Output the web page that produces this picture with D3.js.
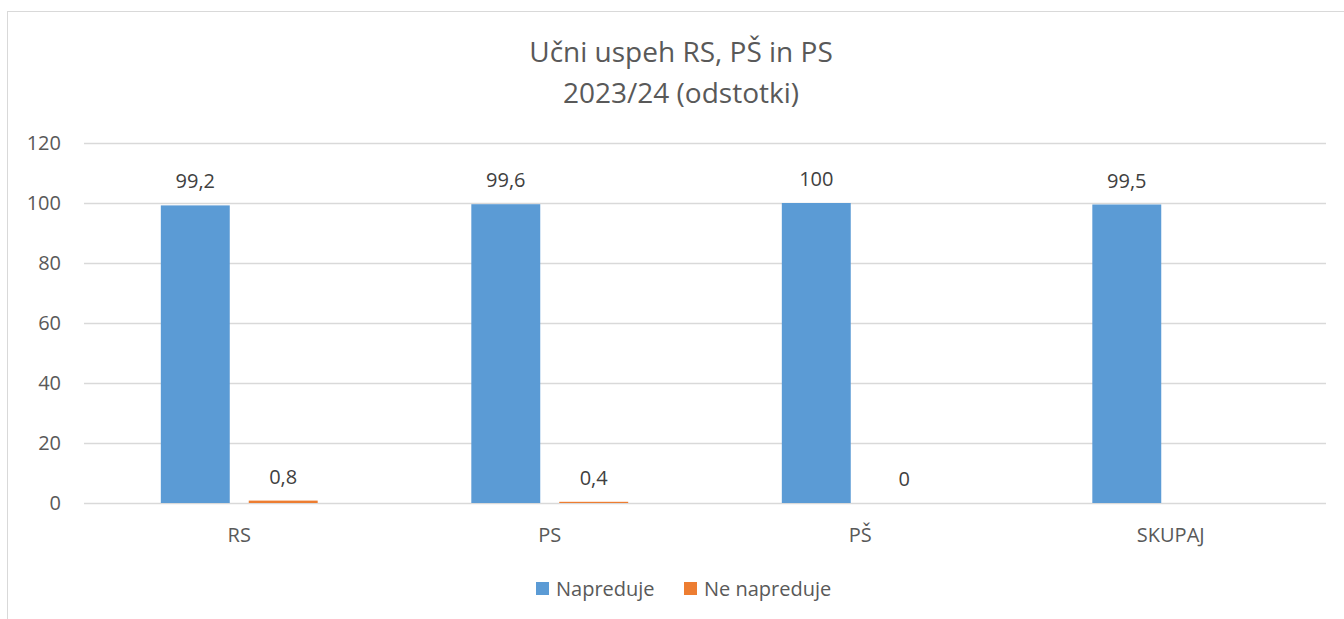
<!DOCTYPE html>
<html>
<head>
<meta charset="utf-8">
<script src="https://cdn.jsdelivr.net/npm/d3@7"></script>
<style>
  body { margin: 0; background: #fff; }
  svg text { font-family: "Open Sans", sans-serif; }
</style>
</head>
<body>
<svg id="chart" width="1344" height="619"></svg>
<script>
const categories = ["RS", "PS", "PŠ", "SKUPAJ"];
const napreduje = [99.2, 99.6, 100, 99.5];
const neNapreduje = [0.8, 0.4, 0, null];
const seriesNames = ["Napreduje", "Ne napreduje"];
const colors = ["#5b9bd5", "#ed7d31"];
const yTicks = [0, 20, 40, 60, 80, 100, 120];

const svg = d3.select("#chart");

// chart frame (cropped on the right and bottom)
svg.append("rect")
  .attr("x", 7.5).attr("y", 11.5)
  .attr("width", 1400).attr("height", 700)
  .attr("fill", "#fff")
  .attr("stroke", "#d9d9d9");

const plotLeft = 84, plotRight = 1326, plotTop = 143, plotBottom = 503;

const x = d3.scaleBand().domain(categories).range([plotLeft, plotRight]);
const y = d3.scaleLinear().domain([0, 120]).range([plotBottom, plotTop]);

const barW = x.bandwidth() * 0.222;
const gap = 19;

// gridlines
svg.append("g")
  .selectAll("line")
  .data(yTicks)
  .join("line")
  .attr("x1", plotLeft).attr("x2", plotRight)
  .attr("y1", (d) => Math.round(y(d)) + 0.5)
  .attr("y2", (d) => Math.round(y(d)) + 0.5)
  .attr("stroke", "#d9d9d9")
  .attr("stroke-width", 1.5);

// y axis labels
svg.append("g")
  .selectAll("text")
  .data(yTicks)
  .join("text")
  .attr("x", 61)
  .attr("y", (d) => y(d))
  .attr("dy", "0.35em")
  .attr("text-anchor", "end")
  .attr("font-size", 20)
  .attr("fill", "#595959")
  .text((d) => d);

const series = [napreduje, neNapreduje];

series.forEach((vals, si) => {
  const offset = si === 0 ? -gap / 2 - barW : gap / 2;
  const data = categories.map((c, i) => ({ c, v: vals[i] })).filter((d) => d.v !== null);

  svg.append("g")
    .selectAll("rect")
    .data(data)
    .join("rect")
    .attr("x", (d) => x(d.c) + x.bandwidth() / 2 + offset)
    .attr("y", (d) => y(d.v))
    .attr("width", barW)
    .attr("height", (d) => y(0) - y(d.v))
    .attr("fill", colors[si]);

  svg.append("g")
    .selectAll("text")
    .data(data)
    .join("text")
    .attr("x", (d) => x(d.c) + x.bandwidth() / 2 + offset + barW / 2)
    .attr("y", (d) => y(d.v) - 17)
    .attr("text-anchor", "middle")
    .attr("font-size", 20)
    .attr("fill", "#404040")
    .text((d) => String(d.v).replace(".", ","));
});

// category labels
svg.append("g")
  .selectAll("text")
  .data(categories)
  .join("text")
  .attr("x", (d) => x(d) + x.bandwidth() / 2)
  .attr("y", 542)
  .attr("text-anchor", "middle")
  .attr("font-size", 20)
  .attr("fill", "#595959")
  .text((d) => d);

// title
const title = svg.append("text")
  .attr("x", 681)
  .attr("text-anchor", "middle")
  .attr("font-size", 28)
  .attr("fill", "#595959");
title.append("tspan").attr("x", 681).attr("y", 62).text("Učni uspeh RS, PŠ in PS");
title.append("tspan").attr("x", 681).attr("y", 103).text("2023/24 (odstotki)");

// legend
const legendX = [536, 684];
const legend = svg.append("g")
  .selectAll("g")
  .data(seriesNames)
  .join("g")
  .attr("transform", (d, i) => `translate(${legendX[i]},582)`);
legend.append("rect")
  .attr("width", 13).attr("height", 13)
  .attr("fill", (d, i) => colors[i]);
legend.append("text")
  .attr("x", 20).attr("y", 14)
  .attr("font-size", 20)
  .attr("fill", "#595959")
  .text((d) => d);
</script>
</body>
</html>
